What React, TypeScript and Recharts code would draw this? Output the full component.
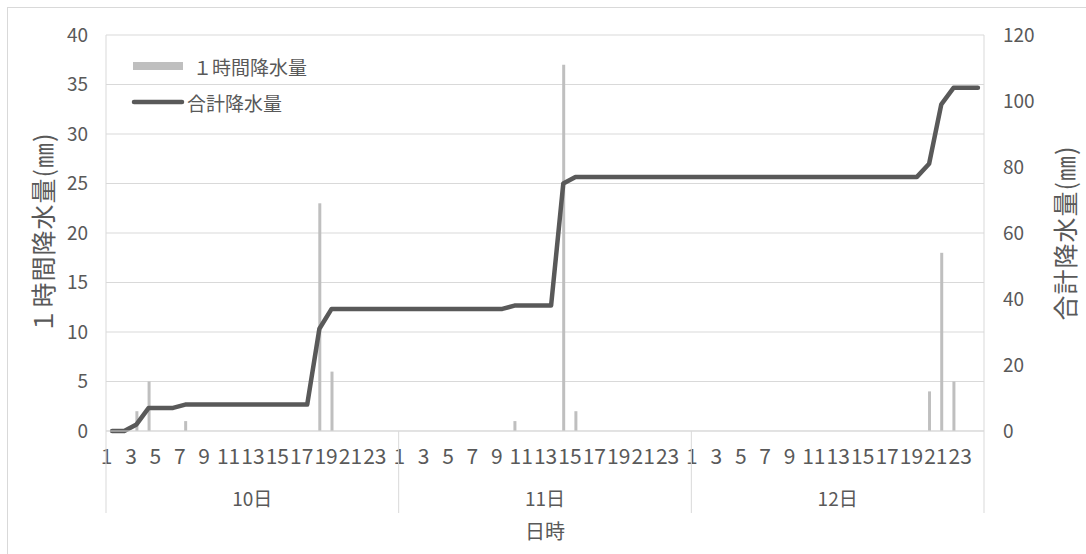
import {
  ComposedChart,
  Bar,
  Line,
  XAxis,
  YAxis,
  CartesianGrid,
  Legend,
} from 'recharts'

// 日付・時刻
const days = ['10日', '11日', '12日']
const hours = [1, 2, 3, 4, 5, 6, 7, 8, 9, 10, 11, 12, 13, 14, 15, 16, 17, 18, 19, 20, 21, 22, 23, 24]

// 1時間降水量 (mm)
const rain10 = [0, 0, 2, 5, 0, 0, 1, 0, 0, 0, 0, 0, 0, 0, 0, 0, 0, 23, 6, 0, 0, 0, 0, 0]
const rain11 = [0, 0, 0, 0, 0, 0, 0, 0, 0, 1, 0, 0, 0, 37, 2, 0, 0, 0, 0, 0, 0, 0, 0, 0]
const rain12 = [0, 0, 0, 0, 0, 0, 0, 0, 0, 0, 0, 0, 0, 0, 0, 0, 0, 0, 0, 4, 18, 5, 0, 0]

// 合計降水量 (mm)
const total10 = [0, 0, 2, 7, 7, 7, 8, 8, 8, 8, 8, 8, 8, 8, 8, 8, 8, 31, 37, 37, 37, 37, 37, 37]
const total11 = [37, 37, 37, 37, 37, 37, 37, 37, 37, 38, 38, 38, 38, 75, 77, 77, 77, 77, 77, 77, 77, 77, 77, 77]
const total12 = [77, 77, 77, 77, 77, 77, 77, 77, 77, 77, 77, 77, 77, 77, 77, 77, 77, 77, 77, 81, 99, 104, 104, 104]

// 軸目盛
const leftTicks = [0, 5, 10, 15, 20, 25, 30, 35, 40]
const rightTicks = [0, 20, 40, 60, 80, 100, 120]

const rainByDay = [rain10, rain11, rain12]
const totalByDay = [total10, total11, total12]

const chartData = days.flatMap((day, d) =>
  hours.map((hour, h) => ({
    key: `${day}-${hour}`,
    day,
    hour,
    rain: rainByDay[d][h],
    total: totalByDay[d][h],
  }))
)

// レイアウト
const WIDTH = 1086
const HEIGHT = 554
const PLOT_LEFT = 106
const PLOT_RIGHT = 984
const PLOT_TOP = 35
const PLOT_BOTTOM = 431
const BAND = (PLOT_RIGHT - PLOT_LEFT) / chartData.length

const TEXT = '#595959'
const GRID = '#d9d9d9'
const BAR = '#bfbfbf'
const LINE = '#595959'
const FONT = '"Noto Sans CJK JP", "Noto Sans", sans-serif'

function HourTick(props: any) {
  const { x, y, index } = props
  const row = chartData[index]
  if (!row) return null
  const half = BAND / 2
  return (
    <g>
      {row.hour % 2 === 1 && (
        <text x={x - 5.5} y={y + 24} textAnchor="middle" dominantBaseline="central" fill={TEXT} fontSize={21}>
          {row.hour}
        </text>
      )}
      {row.hour === 1 && (
        <line x1={x - half} x2={x - half} y1={y} y2={y + 82} stroke={GRID} strokeWidth={1} />
      )}
      {index === chartData.length - 1 && (
        <line x1={x + half} x2={x + half} y1={y} y2={y + 82} stroke={GRID} strokeWidth={1} />
      )}
      {row.hour === 12 && (
        <text x={x + half} y={y + 66} textAnchor="middle" dominantBaseline="central" fill={TEXT} fontSize={19}>
          {row.day}
        </text>
      )}
    </g>
  )
}

function VerticalTitle({ viewBox, text, cx }: any) {
  if (!viewBox) return null
  const x = viewBox.x + cx
  const y = viewBox.y + viewBox.height / 2
  return (
    <text
      x={x}
      y={y}
      transform={`rotate(-90, ${x}, ${y})`}
      textAnchor="middle"
      dominantBaseline="central"
      fill={TEXT}
      fontSize={25}
      letterSpacing={1}
    >
      {text}
    </text>
  )
}

function renderLegend(props: any) {
  const { payload = [] } = props
  // 棒を先、線を後に
  const items = [...payload].sort((a: any, b: any) => (a.type === 'line' ? 1 : 0) - (b.type === 'line' ? 1 : 0))
  return (
    <div style={{ fontFamily: FONT, color: TEXT, fontSize: 19 }}>
      {items.map((entry: any) => (
        <div key={entry.value} style={{ display: 'flex', alignItems: 'center', height: 36 }}>
          {entry.type === 'line' ? (
            <>
              <svg width={56} height={8} style={{ display: 'block' }}>
                <line x1={4} x2={52} y1={4} y2={4} stroke={LINE} strokeWidth={4.5} strokeLinecap="round" />
              </svg>
              <span style={{ marginLeft: 1 }}>{entry.value}</span>
            </>
          ) : (
            <>
              <div style={{ width: 50, height: 8, background: BAR, marginLeft: 3 }} />
              <span style={{ marginLeft: 10 }}>{entry.value}</span>
            </>
          )}
        </div>
      ))}
    </div>
  )
}

export default function App() {
  return (
    <div
      style={{
        position: 'absolute',
        left: 0,
        top: 0,
        width: WIDTH,
        height: HEIGHT,
        overflow: 'hidden',
        background: '#fff',
        fontFamily: FONT,
      }}
    >
      <div
        style={{
          position: 'absolute',
          left: 7,
          top: 7,
          width: WIDTH + 20,
          height: HEIGHT + 20,
          border: `1px solid ${GRID}`,
        }}
      />
      <div style={{ position: 'absolute', left: 0, top: 0 }}>
        <ComposedChart
          width={WIDTH}
          height={HEIGHT}
          data={chartData}
          margin={{ top: PLOT_TOP, right: 0, bottom: 0, left: 0 }}
          barGap={0}
        >
          <CartesianGrid yAxisId="left" vertical={false} stroke={GRID} strokeWidth={1} />
          <XAxis
            dataKey="key"
            interval={0}
            height={HEIGHT - PLOT_BOTTOM}
            axisLine={{ stroke: GRID }}
            tickLine={false}
            tickSize={0}
            tickMargin={0}
            tick={<HourTick />}
            label={{
              content: (p: any) =>
                p.viewBox ? (
                  <text
                    x={p.viewBox.x + p.viewBox.width / 2}
                    y={p.viewBox.y + 99}
                    textAnchor="middle"
                    dominantBaseline="central"
                    fill={TEXT}
                    fontSize={20}
                  >
                    日時
                  </text>
                ) : null,
            }}
          />
          <YAxis
            yAxisId="left"
            width={PLOT_LEFT}
            domain={[0, 40]}
            ticks={leftTicks}
            interval={0}
            axisLine={{ stroke: GRID }}
            tickLine={false}
            tickSize={0}
            tickMargin={18}
            tick={{ fill: TEXT, fontSize: 19 }}
            label={{ content: (p: any) => <VerticalTitle viewBox={p.viewBox} text="１時間降水量(㎜)" cx={42} /> }}
          />
          <YAxis
            yAxisId="right"
            orientation="right"
            width={WIDTH - PLOT_RIGHT}
            domain={[0, 120]}
            ticks={rightTicks}
            interval={0}
            axisLine={{ stroke: GRID }}
            tickLine={false}
            tickSize={0}
            tickMargin={19}
            tick={{ fill: TEXT, fontSize: 19 }}
            label={{ content: (p: any) => <VerticalTitle viewBox={p.viewBox} text="合計降水量(㎜)" cx={80} /> }}
          />
          <Legend
            layout="vertical"
            align="center"
            verticalAlign="middle"
            content={renderLegend}
            wrapperStyle={{ left: 130, top: 48, width: 200 }}
          />
          <Bar
            yAxisId="left"
            dataKey="rain"
            name="１時間降水量"
            fill={BAR}
            barSize={3}
            isAnimationActive={false}
          />
          <Line
            yAxisId="right"
            type="linear"
            dataKey="total"
            name="合計降水量"
            stroke={LINE}
            strokeWidth={4.5}
            strokeLinecap="round"
            strokeLinejoin="round"
            dot={false}
            activeDot={false}
            isAnimationActive={false}
          />
        </ComposedChart>
      </div>
    </div>
  )
}
